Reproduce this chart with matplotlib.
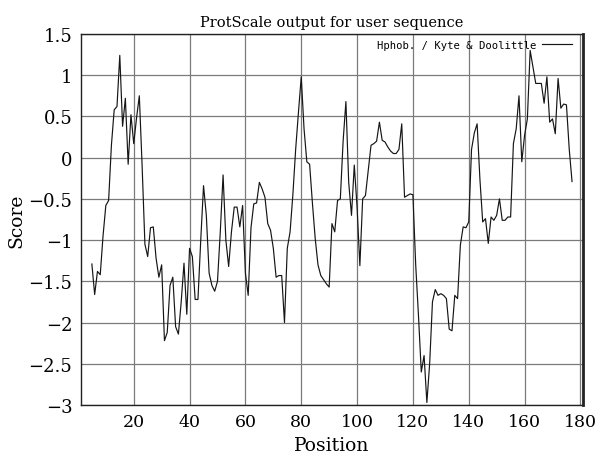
import matplotlib
matplotlib.use("Agg")
import matplotlib.pyplot as plt
import numpy as np

title = "ProtScale output for user sequence"
legend_label = "Hphob. / Kyte & Doolittle"
x_label = "Position"
y_label = "Score"

start_pos = 5
scores = [
    -1.29, -1.66, -1.38, -1.42, -0.95, -0.58, -0.52, 0.15, 0.58, 0.62,   # 5-14
    1.24, 0.38, 0.72, -0.08, 0.52, 0.17, 0.48, 0.75, -0.10, -1.05,       # 15-24
    -1.20, -0.85, -0.84, -1.22, -1.45, -1.30, -2.22, -2.12, -1.55, -1.45,  # 25-34
    -2.05, -2.14, -1.75, -1.28, -1.90, -1.10, -1.20, -1.72, -1.72, -1.00,  # 35-44
    -0.34, -0.70, -1.40, -1.55, -1.62, -1.50, -0.90, -0.21, -1.00, -1.32,  # 45-54
    -0.90, -0.60, -0.60, -0.84, -0.58, -1.40, -1.67, -0.85, -0.56, -0.55,  # 55-64
    -0.30, -0.38, -0.48, -0.80, -0.88, -1.10, -1.45, -1.43, -1.43, -2.00,  # 65-74
    -1.10, -0.90, -0.45, 0.10, 0.55, 0.98, 0.35, -0.05, -0.08, -0.55,     # 75-84
    -0.98, -1.30, -1.43, -1.48, -1.53, -1.57, -0.80, -0.90, -0.52, -0.50,  # 85-94
    0.20, 0.68, -0.30, -0.70, -0.09, -0.60, -1.31, -0.50, -0.46, -0.15,    # 95-104
    0.15, 0.17, 0.20, 0.43, 0.21, 0.19, 0.13, 0.08, 0.05, 0.05,           # 105-114
    0.10, 0.41, -0.48, -0.46, -0.44, -0.45, -1.30, -1.92, -2.60, -2.40,    # 115-124
    -2.97, -2.50, -1.75, -1.60, -1.67, -1.65, -1.67, -1.71, -2.08, -2.10,  # 125-134
    -1.67, -1.71, -1.06, -0.84, -0.85, -0.78, 0.10, 0.30, 0.41, -0.26,     # 135-144
    -0.78, -0.74, -1.04, -0.72, -0.76, -0.70, -0.50, -0.76, -0.76, -0.72,  # 145-154
    -0.72, 0.17, 0.35, 0.75, -0.05, 0.27, 0.47, 1.30, 1.10, 0.90,          # 155-164
    0.90, 0.90, 0.66, 0.98, 0.43, 0.47, 0.29, 0.96, 0.60, 0.65,            # 165-174
    0.64, 0.10, -0.29,                                                     # 175-177
]
positions = list(range(start_pos, start_pos + len(scores)))

x_ticks = [20, 40, 60, 80, 100, 120, 140, 160, 180]
y_ticks = [1.5, 1, 0.5, 0, -0.5, -1, -1.5, -2, -2.5, -3]
x_range = (1, 181)
y_range = (-3, 1.5)

serif = "DejaVu Serif"

fig = plt.figure(figsize=(6.0, 4.6), dpi=100)
ax = fig.add_axes([0.1345, 0.1174, 0.8375, 0.8066])

ax.plot(positions, scores, color="#151515", linewidth=0.85, label=legend_label)
ax.set_xlim(*x_range)
ax.set_ylim(*y_range)
ax.set_xticks(x_ticks)
ax.set_yticks(y_ticks)
ax.set_xticklabels([str(t) for t in x_ticks], family=serif, fontsize=12.5)
ax.set_yticklabels([("\u2212" if t < 0 else "") + ("%g" % abs(t)) for t in y_ticks],
                   family=serif, fontsize=13)
ax.tick_params(length=0, pad=6)
ax.grid(True, color="#7a7a7a", linewidth=0.9)
ax.set_axisbelow(True)
for s in ax.spines.values():
    s.set_color("#222222")
    s.set_linewidth(1.0)
ax.spines["right"].set_linewidth(2.0)

ax.set_title(title, family=serif, fontsize=10.5, pad=6)
ax.set_xlabel(x_label, family=serif, fontsize=13.5, labelpad=4)
ax.set_ylabel(y_label, family=serif, fontsize=13.5, labelpad=2)

leg = ax.legend(loc="upper right", bbox_to_anchor=(0.978, 0.985), frameon=False,
                prop={"family": "DejaVu Sans Mono", "size": 7.6},
                handlelength=2.85, markerfirst=False, borderaxespad=0.0, borderpad=0.0,
                handletextpad=0.5)

fig.savefig("out.png", dpi=100)
